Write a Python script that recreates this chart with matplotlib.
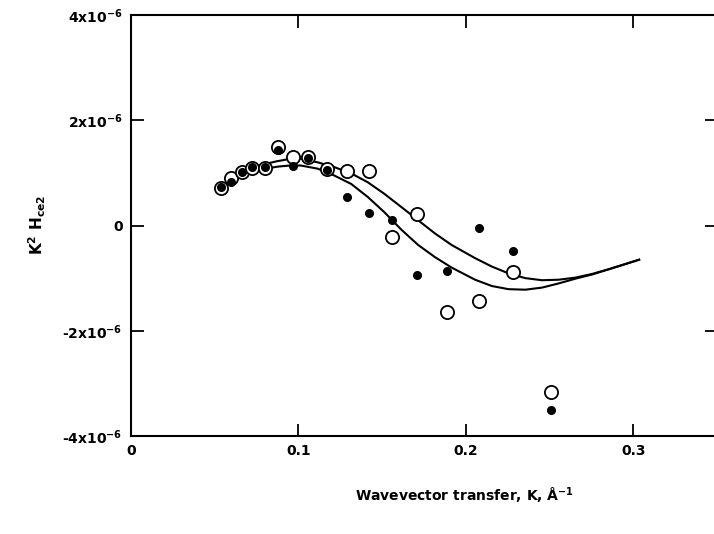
import matplotlib
matplotlib.use("Agg")
import matplotlib.pyplot as plt

# 数据（单位 1e-6）
k_open = [0.054, 0.060, 0.066, 0.072, 0.080, 0.088, 0.097, 0.106, 0.117, 0.129,
          0.142, 0.156, 0.171, 0.189, 0.208, 0.228, 0.251]
h_open = [0.72, 0.90, 1.02, 1.10, 1.10, 1.50, 1.30, 1.31, 1.08, 1.03,
          1.04, -0.21, 0.21, -1.65, -1.44, -0.89, -3.16]

k_fill = [0.054, 0.060, 0.066, 0.072, 0.080, 0.088, 0.097, 0.106, 0.117, 0.129,
          0.142, 0.156, 0.171, 0.189, 0.208, 0.228, 0.251]
h_fill = [0.74, 0.82, 1.01, 1.12, 1.12, 1.44, 1.13, 1.29, 1.05, 0.54,
          0.24, 0.10, -0.95, -0.86, -0.05, -0.49, -3.50]

# 两条拟合曲线
k_up = [0.054, 0.060, 0.066, 0.072, 0.079, 0.087, 0.094, 0.1014, 0.1115, 0.1214,
        0.1315, 0.1415, 0.1514, 0.1615, 0.1715, 0.1815, 0.1915, 0.2055, 0.2155, 0.2255,
        0.2355, 0.2455, 0.2555, 0.2655, 0.2755, 0.2855, 0.2955, 0.3035]
h_up = [0.72, 0.88, 1.00, 1.08, 1.16, 1.22, 1.26, 1.27, 1.20, 1.11,
        0.99, 0.82, 0.60, 0.35, 0.10, -0.15, -0.37, -0.62, -0.78, -0.91,
        -1.00, -1.04, -1.03, -0.99, -0.92, -0.83, -0.73, -0.65]

k_lo = [0.054, 0.060, 0.066, 0.072, 0.080, 0.088, 0.095, 0.1014, 0.1115, 0.1214,
        0.1315, 0.1415, 0.1514, 0.1615, 0.1715, 0.1815, 0.1915, 0.2055, 0.2155, 0.2255,
        0.2355, 0.2455, 0.2555, 0.2655, 0.2755, 0.2855, 0.2955, 0.3035]
h_lo = [0.72, 0.85, 0.95, 1.02, 1.08, 1.12, 1.14, 1.14, 1.08, 0.95,
        0.79, 0.54, 0.25, -0.08, -0.37, -0.60, -0.80, -1.03, -1.15, -1.21,
        -1.22, -1.18, -1.10, -1.01, -0.93, -0.83, -0.73, -0.65]

yticks = [-4, -2, 0, 2, 4]
ytick_labels = ["-4x10$^{-6}$", "-2x10$^{-6}$", "0", "2x10$^{-6}$", "4x10$^{-6}$"]
xticks = [0, 0.1, 0.2, 0.3]
xtick_labels = ["0", "0.1", "0.2", "0.3"]

plt.rcParams['font.family'] = ['DejaVu Sans']
plt.rcParams['font.weight'] = 'bold'
plt.rcParams['mathtext.default'] = 'bf'

fig = plt.figure(figsize=(7.14, 5.34), dpi=100)
ax = fig.add_axes([131 / 714, 1 - 436 / 534, (717 - 131) / 714, (436 - 15) / 534])

ax.plot(k_up, h_up, color='black', lw=1.5)
ax.plot(k_lo, h_lo, color='black', lw=1.5)
ax.plot(k_open, h_open, 'o', ms=9.5, mfc='white', mec='black', mew=1.3)
ax.plot(k_fill, h_fill, 'o', ms=5.5, mfc='black', mec='black')

ax.set_xlim(0, 0.35)
ax.set_ylim(-4, 4)
ax.set_xticks(xticks)
ax.set_xticklabels(xtick_labels, fontsize=10, fontweight='bold')
ax.set_yticks(yticks)
ax.set_yticklabels(ytick_labels, fontsize=10, fontweight='bold')
ax.tick_params(direction='in', length=9, width=1.3, top=True, right=True, pad=6)
for s in ax.spines.values():
    s.set_linewidth(1.5)

fig.text(37 / 714, 1 - 225 / 534, "K$^2$ H$_{ce2}$", rotation=90, ha='center', va='center',
         fontsize=11, fontweight='bold')
fig.text(464 / 714, 1 - 496 / 534, "Wavevector transfer, K, Å$^{-1}$", ha='center', va='center',
         fontsize=10, fontweight='bold')

fig.savefig("out.png", dpi=100)
